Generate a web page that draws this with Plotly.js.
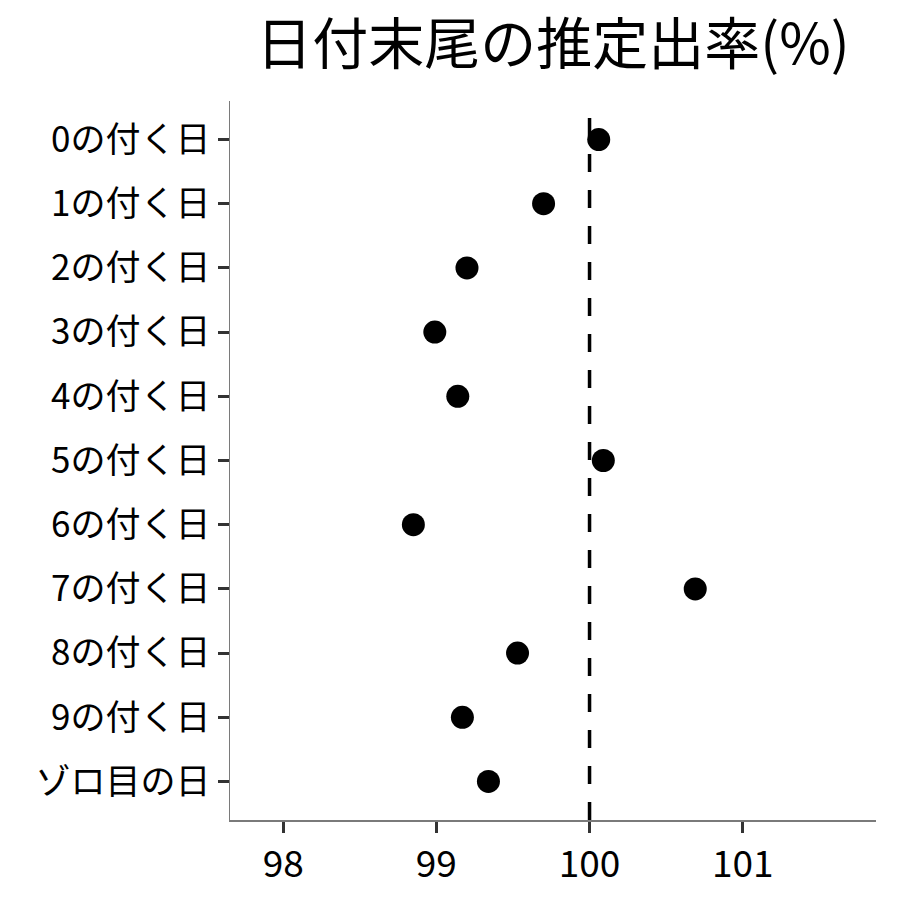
<!DOCTYPE html>
<html>
<head>
<meta charset="utf-8">
<script src="https://cdn.plot.ly/plotly-3.0.1.min.js"></script>
<style>html,body{margin:0;padding:0;background:#fff;}</style>
</head>
<body>
<div id="chart" style="width:900px;height:900px;"></div>
<script>
const categories = ["0の付く日","1の付く日","2の付く日","3の付く日","4の付く日","5の付く日","6の付く日","7の付く日","8の付く日","9の付く日","ゾロ目の日"];
const rates = [100.06, 99.70, 99.20, 98.99, 99.14, 100.09, 98.85, 100.69, 99.53, 99.17, 99.34];
const referenceRate = 100;
const xTicks = [98, 99, 100, 101];
const titleText = "日付末尾の推定出率(%)";

const font = "Noto Sans CJK JP, Noto Sans, sans-serif";

const trace = {
  type: "scatter",
  mode: "markers",
  x: rates,
  y: categories,
  marker: {color: "#000000", size: 23, line: {width: 0}},
  hoverinfo: "x+y",
  showlegend: false
};

const layout = {
  width: 900,
  height: 900,
  paper_bgcolor: "#ffffff",
  plot_bgcolor: "#ffffff",
  margin: {l: 230, r: 24, t: 101, b: 80},
  title: {
    text: titleText,
    font: {family: font, size: 56, color: "#000000"},
    x: 553 / 900,
    xanchor: "center",
    y: 1 - 44 / 900,
    yanchor: "middle"
  },
  xaxis: {
    range: [97.653, 101.87],
    tickvals: xTicks,
    ticktext: xTicks.map(String),
    showgrid: false,
    zeroline: false,
    showline: true,
    linecolor: "#7a7a7a",
    linewidth: 1.5,
    ticks: "outside",
    ticklen: 11,
    tickwidth: 3,
    tickcolor: "#333333",
    tickfont: {family: font, size: 37, color: "#000000"}
  },
  yaxis: {
    type: "category",
    categoryorder: "array",
    categoryarray: categories,
    range: [10.6, -0.6],
    showgrid: false,
    zeroline: false,
    showline: true,
    linecolor: "#7a7a7a",
    linewidth: 1.5,
    ticks: "outside",
    ticklen: 11,
    tickwidth: 3,
    tickcolor: "#333333",
    tickfont: {family: font, size: 35, color: "#000000"}
  },
  shapes: [{
    type: "line",
    xref: "x",
    yref: "paper",
    x0: referenceRate,
    x1: referenceRate,
    y0: 0,
    y1: 1,
    layer: "below",
    line: {color: "#000000", width: 3.5, dash: "18px,18px"}
  }]
};

Plotly.newPlot("chart", [trace], layout, {displayModeBar: false, staticPlot: true});
</script>
</body>
</html>
